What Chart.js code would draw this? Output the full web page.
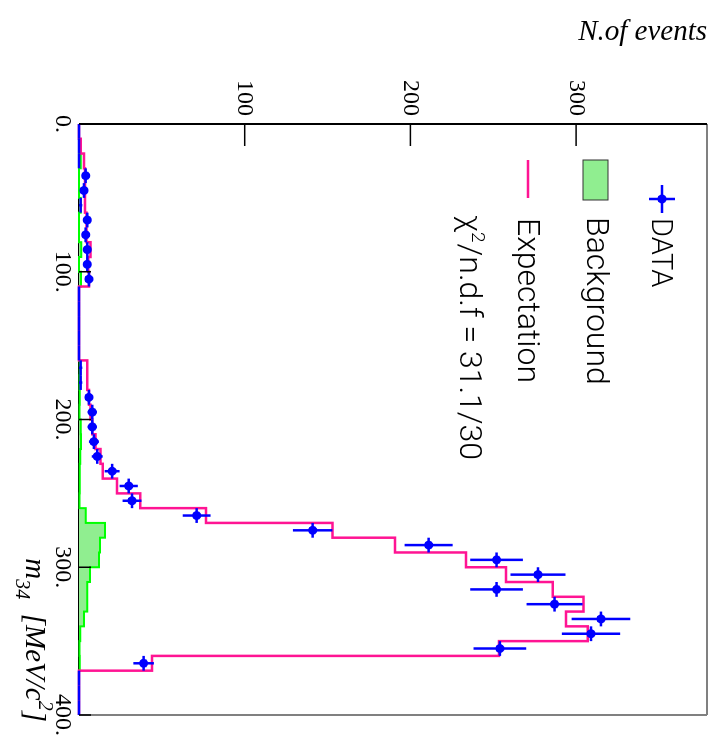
<!DOCTYPE html>
<html>
<head>
<meta charset="utf-8">
<script src="https://cdn.jsdelivr.net/npm/chart.js@4/dist/chart.umd.min.js"></script>
<style>
  html, body { margin: 0; padding: 0; background: #fff; overflow: hidden; }
  /* the whole plot is drawn upright, then turned a quarter clockwise */
  #wrap { position: absolute; left: 0; top: 0; width: 742px; height: 715px;
          transform-origin: 0 0; transform: translateX(715px) rotate(90deg); }
</style>
</head>
<body>
<div id="wrap"><canvas id="chart" width="742" height="715"></canvas></div>
<script>
// m34 bins, 10 MeV/c^2 wide
const binEdges = [0, 10, 20, 30, 40, 50, 60, 70, 80, 90, 100, 110, 120, 130, 140, 150, 160, 170, 180, 190, 200,
                  210, 220, 230, 240, 250, 260, 270, 280, 290, 300, 310, 320, 330, 340, 350, 360, 370, 380, 390, 400];
const dataCounts = [0, 0, 0, 4, 3, 1, 5, 4, 5, 5, 6, 0, 0, 0, 0, 0, 1, 1, 6, 8,
                    8, 9, 11, 20, 30, 32, 71, 141, 211, 252, 277, 252, 287, 315, 309, 254, 39, 0, 0, 0];
const dataErrors = [0, 0, 0, 2, 1.7, 1, 2.2, 2, 2.2, 2.2, 2.4, 0, 0, 0, 0, 0, 1, 1, 2.4, 2.8,
                    2.8, 3, 3.3, 4.5, 5.5, 5.7, 8.4, 11.9, 14.5, 15.9, 16.6, 15.9, 16.9, 17.7, 17.6, 15.9, 6.2, 0, 0, 0];
const expectation = [0, 1, 3, 3.6, 3.6, 3.6, 4.6, 4.6, 7, 5.6, 6, 0, 0, 0, 0, 0, 5, 5, 6, 7,
                     8, 10, 13, 14.3, 23, 37, 76.6, 153, 190.7, 233.6, 257.7, 285.9, 304.4, 293.9, 307, 253.5, 44, 0, 0, 0];
const background = [0, 0, 1, 0, 0, 1, 0, 0, 1.4, 0, 1.2, 0, 0, 0, 0, 0, 0.5, 0.3, 0.5, 0.3,
                    1, 1.2, 0.8, 0.5, 0.5, 0.3, 4, 15.7, 12.7, 12, 6.6, 5, 5, 3, 0.8, 0.3, 0.5, 0, 0, 0];
const massTicks = [0, 100, 200, 300, 400];
const massTickLabels = ["0.", "100.", "200.", "300.", "400."];
const countTicks = [100, 200, 300];
const countTickLabels = ["100", "200", "300"];

const serif = '"Liberation Serif", "DejaVu Serif", serif';
const sans = 'Roboto, "Liberation Sans", sans-serif';

function stepPoints(values) {
    const pts = values.map((v, i) => ({ x: binEdges[i], y: v }));
    pts.push({ x: binEdges[binEdges.length - 1], y: 0 });
    return pts;
}

const dataPoints = dataCounts.map((c, i) => ({ x: (binEdges[i] + binEdges[i + 1]) / 2, y: c }));

function line(ctx, x1, y1, x2, y2) {
    ctx.beginPath();
    ctx.moveTo(x1, y1);
    ctx.lineTo(x2, y2);
    ctx.stroke();
}

const rootFrame = {
    id: 'rootFrame',
    beforeDatasetsDraw(chart) {
        const { ctx, chartArea: a } = chart;
        ctx.save();
        ctx.strokeStyle = '#808080';
        ctx.lineWidth = 2;
        line(ctx, a.left, a.top, a.right, a.top);
        line(ctx, a.right, a.top, a.right, a.bottom);
        ctx.strokeStyle = '#000';
        line(ctx, a.left, a.top, a.left, a.bottom);
        line(ctx, a.left, a.bottom, a.right, a.bottom);
        ctx.restore();
    },
    afterDatasetsDraw(chart) {
        const { ctx, chartArea: a } = chart;
        const x = chart.scales.x, y = chart.scales.y;
        ctx.save();
        // error bars of the data
        ctx.strokeStyle = '#0000ff';
        ctx.lineWidth = 2.5;
        dataCounts.forEach((c, i) => {
            const py = y.getPixelForValue(c);
            line(ctx, x.getPixelForValue(binEdges[i]), py, x.getPixelForValue(binEdges[i + 1]), py);
            if (dataErrors[i] > 0) {
                const px = x.getPixelForValue((binEdges[i] + binEdges[i + 1]) / 2);
                line(ctx, px, y.getPixelForValue(c - dataErrors[i]), px, y.getPixelForValue(c + dataErrors[i]));
            }
        });
        // ticks
        ctx.strokeStyle = '#000';
        ctx.lineWidth = 1.5;
        massTicks.forEach(m => {
            const px = x.getPixelForValue(m);
            line(ctx, px, a.bottom, px, a.bottom - 12);
        });
        countTicks.forEach(n => {
            const py = y.getPixelForValue(n);
            line(ctx, a.left, py, a.left + 22, py);
        });
        ctx.restore();
    },
    afterDraw(chart) {
        const { ctx, chartArea: a } = chart;
        const x = chart.scales.x, y = chart.scales.y;
        ctx.save();
        ctx.fillStyle = '#000';
        // tick labels
        ctx.font = '24px ' + serif;
        ctx.textAlign = 'center';
        ctx.textBaseline = 'alphabetic';
        massTicks.forEach((m, i) => ctx.fillText(massTickLabels[i], x.getPixelForValue(m), a.bottom + 23));
        ctx.textAlign = 'right';
        ctx.textBaseline = 'middle';
        countTicks.forEach((n, i) => ctx.fillText(countTickLabels[i], a.left - 8, y.getPixelForValue(n)));

        // axis titles
        ctx.font = 'italic 29px ' + serif;
        ctx.save();
        ctx.translate(40, a.top);
        ctx.rotate(-Math.PI / 2);
        ctx.textAlign = 'right';
        ctx.textBaseline = 'alphabetic';
        ctx.fillText('N.of events', 0, 0);
        ctx.restore();

        const base = a.bottom + 53;
        const parts = [
            { t: 'm', f: 'italic 29px ', dy: 0 },
            { t: '34', f: 'italic 20px ', dy: 10 },
            { t: '  [MeV/c', f: 'italic 29px ', dy: 0 },
            { t: '2', f: 'italic 20px ', dy: -13 },
            { t: ']', f: 'italic 29px ', dy: 0 }
        ];
        let total = 0;
        parts.forEach(p => { ctx.font = p.f + serif; p.w = ctx.measureText(p.t).width; total += p.w; });
        let cx = a.right + 7 - total;
        ctx.textAlign = 'left';
        ctx.textBaseline = 'alphabetic';
        parts.forEach(p => { ctx.font = p.f + serif; ctx.fillText(p.t, cx, base + p.dy); cx += p.w; });

        // legend
        ctx.strokeStyle = '#0000ff';
        ctx.fillStyle = '#0000ff';
        ctx.lineWidth = 2.5;
        line(ctx, 185, 53, 213, 53);
        line(ctx, 199, 40, 199, 66);
        ctx.beginPath();
        ctx.arc(199, 53, 4.5, 0, 2 * Math.PI);
        ctx.fill();
        ctx.fillStyle = '#90ee90';
        ctx.fillRect(160, 107, 40, 25);
        ctx.strokeStyle = '#333';
        ctx.lineWidth = 1;
        ctx.strokeRect(160, 107, 40, 25);
        ctx.strokeStyle = '#ff1493';
        ctx.lineWidth = 2.5;
        line(ctx, 160, 187, 198, 187);
        ctx.fillStyle = '#000';
        ctx.textAlign = 'left';
        ctx.font = '300 29px ' + sans;
        ctx.fillText('DATA', 218, 63);
        ctx.font = '300 32px ' + sans;
        ctx.fillText('Background', 217, 128);
        ctx.fillText('Expectation', 218, 197);
        let lx = 215;
        ctx.fillText('\u03c7', lx, 255);
        lx += ctx.measureText('\u03c7').width;
        ctx.font = '300 19px ' + sans;
        ctx.fillText('2', lx, 243);
        lx += ctx.measureText('2').width + 1;
        ctx.font = '300 32px ' + sans;
        ctx.fillText('/n.d.f = 31.1/30', lx, 255);
        ctx.restore();
    }
};

new Chart(document.getElementById('chart'), {
    type: 'line',
    data: {
        datasets: [
            {
                label: 'DATA',
                data: dataPoints,
                showLine: false,
                pointRadius: c => (dataCounts[c.dataIndex] >= 2 ? 4.5 : 0),
                pointBackgroundColor: '#0000ff',
                pointBorderColor: '#0000ff',
                pointBorderWidth: 0,
                clip: 10
            },
            {
                label: 'Expectation',
                data: stepPoints(expectation),
                stepped: 'before',
                fill: false,
                borderColor: '#ff1493',
                borderWidth: 2.5,
                pointRadius: 0,
                clip: 4
            },
            {
                label: 'Background',
                data: stepPoints(background),
                stepped: 'before',
                fill: 'origin',
                backgroundColor: '#90ee90',
                borderColor: '#00ff00',
                borderWidth: 2,
                pointRadius: 0,
                clip: 4
            }
        ]
    },
    options: {
        responsive: false,
        animation: false,
        devicePixelRatio: 1,
        layout: { padding: { left: 124, right: 27, top: 8, bottom: 79 } },
        scales: {
            x: { type: 'linear', min: 0, max: 400, display: false },
            y: { type: 'linear', min: 0, max: 379, display: false }
        },
        plugins: { legend: { display: false }, tooltip: { enabled: false } }
    },
    plugins: [rootFrame]
});
</script>
</body>
</html>
